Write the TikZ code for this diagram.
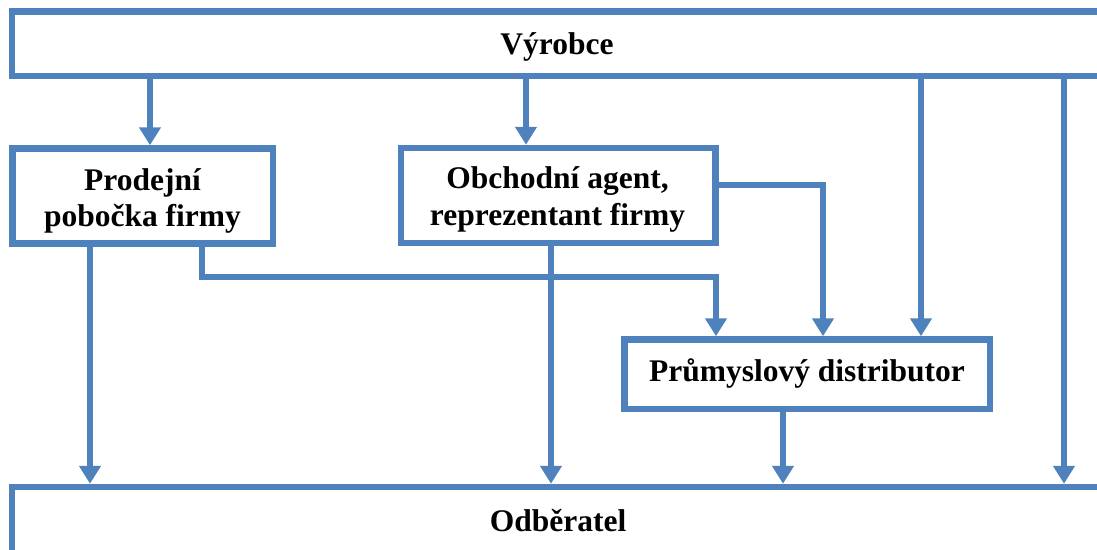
\documentclass[tikz,border=0pt]{standalone}
\usepackage{fontspec}
\setmainfont{Liberation Serif}
\usetikzlibrary{arrows.meta}
\definecolor{boxblue}{RGB}{79,129,189}
\begin{document}
\begin{tikzpicture}[x=1pt,y=-1pt,
  box/.style={draw=boxblue, line width=6.5pt, fill=white, rectangle, inner sep=0pt},
  txt/.style={anchor=base, inner sep=0pt, align=center,
    font=\fontsize{31.5}{36.5}\selectfont\bfseries},
  flow/.style={draw=boxblue, line width=6.5pt, line join=miter,
    -{Triangle[width=21pt,length=18pt]}}]
\useasboundingbox (0,0) rectangle (1097,549);
\clip (0,0) rectangle (1097,549);

% boxes
\node[box, minimum width=1092pt, minimum height=64.5pt] (vyr) at (558,43.75) {};
\node[box, minimum width=1092pt, minimum height=66pt] (odb) at (558,520) {};
\node[box, minimum width=260.5pt, minimum height=95pt] (pro) at (142.75,196) {};
\node[box, minimum width=314.5pt, minimum height=95pt] (obc) at (558.25,195.5) {};
\node[box, minimum width=365.5pt, minimum height=69.5pt] (dis) at (807.25,374.25) {};

% box captions, placed by their last baseline
\node[txt] (vyr-t) at (557,54) {Výrobce};
\node[txt] (odb-t) at (558,531) {Odběratel};
\node[txt] (pro-t) at (142.5,226.5) {Prodejní\\pobočka firmy};
\node[txt] (obc-t) at (557.5,225) {Obchodní agent,\\reprezentant firmy};
\node[txt] (dis-t) at (807,381.5) {Průmyslový distributor};

% columns and rows of the connectors
\coordinate (xa) at (90,0);
\coordinate (xb) at (150,0);
\coordinate (xc) at (202,0);
\coordinate (xd) at (526,0);
\coordinate (xe) at (551,0);
\coordinate (xf) at (716,0);
\coordinate (xg) at (783,0);
\coordinate (xh) at (823,0);
\coordinate (xi) at (921,0);
\coordinate (xj) at (1064,0);
\coordinate (yb) at (0,277);
\coordinate (ya) at (0,185);

% from the producer
\draw[flow] (vyr.south -| xb) -- (pro.north -| xb);
\draw[flow] (vyr.south -| xd) -- (obc.north -| xd);
\draw[flow] (vyr.south -| xi) -- (dis.north -| xi);
\draw[flow] (vyr.south -| xj) -- (odb.north -| xj);

% from the sales branch
\draw[flow] (pro.south -| xa) -- (odb.north -| xa);
\draw[flow] (pro.south -| xc) -- (xc |- yb) -- (xf |- yb) -- (dis.north -| xf);

% from the agent
\draw[flow] (obc.south -| xe) -- (odb.north -| xe);
\draw[flow] (obc.east |- ya) -- (xh |- ya) -- (dis.north -| xh);

% from the distributor
\draw[flow] (dis.south -| xg) -- (odb.north -| xg);
\end{tikzpicture}
\end{document}
